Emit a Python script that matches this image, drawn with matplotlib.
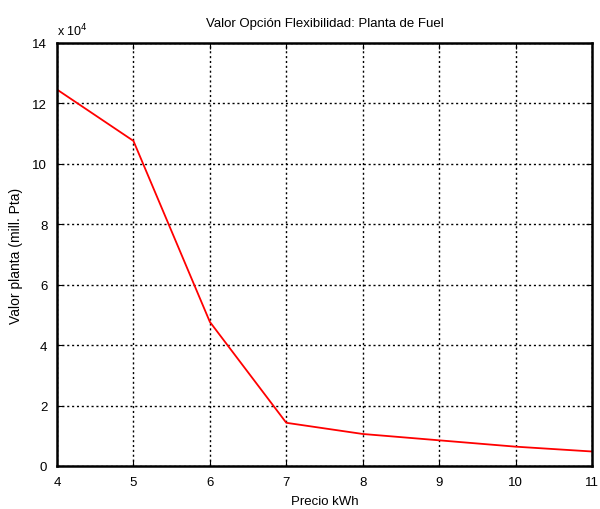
import numpy as np
import matplotlib
matplotlib.use("Agg")
import matplotlib.pyplot as plt

plt.rcParams['font.family'] = ['Liberation Sans', 'DejaVu Sans']

# precio kWh vs valor planta (x 10^4 mill. Pta)
precio = [4, 5, 6, 7, 8, 9, 10, 11]
valor = [12.46, 10.76, 4.77, 1.43, 1.06, 0.85, 0.64, 0.48]

fig = plt.figure(figsize=(6.0, 5.1), dpi=100)
ax = fig.add_axes([57/600, 1 - 467/510, (592-57)/600, (467-44)/510])

ax.plot(precio, valor, color="red", lw=1.3)

ax.set_xlim(4, 11)
ax.set_ylim(0, 14)
ax.set_xticks(range(4, 12))
ax.set_yticks(range(0, 15, 2))
ax.grid(True, color="black", linestyle=(0, (1.5, 2)), lw=1.0)
ax.tick_params(direction="in", length=4, labelsize=9.5, top=True, right=True, pad=7)
for s in ax.spines.values():
    s.set_linewidth(1.8)

ax.set_title("Valor Opción Flexibilidad: Planta de Fuel", fontsize=9.5, pad=12)
ax.set_xlabel("Precio kWh", fontsize=9.5, labelpad=5)
ax.set_ylabel("Valor planta (mill. Pta)", fontsize=10, labelpad=7)
fig.text(57/600, 1 - 36/510, r"x 10$^{4}$", fontsize=9, va="baseline", ha="left")

fig.savefig("out.png", dpi=100)
